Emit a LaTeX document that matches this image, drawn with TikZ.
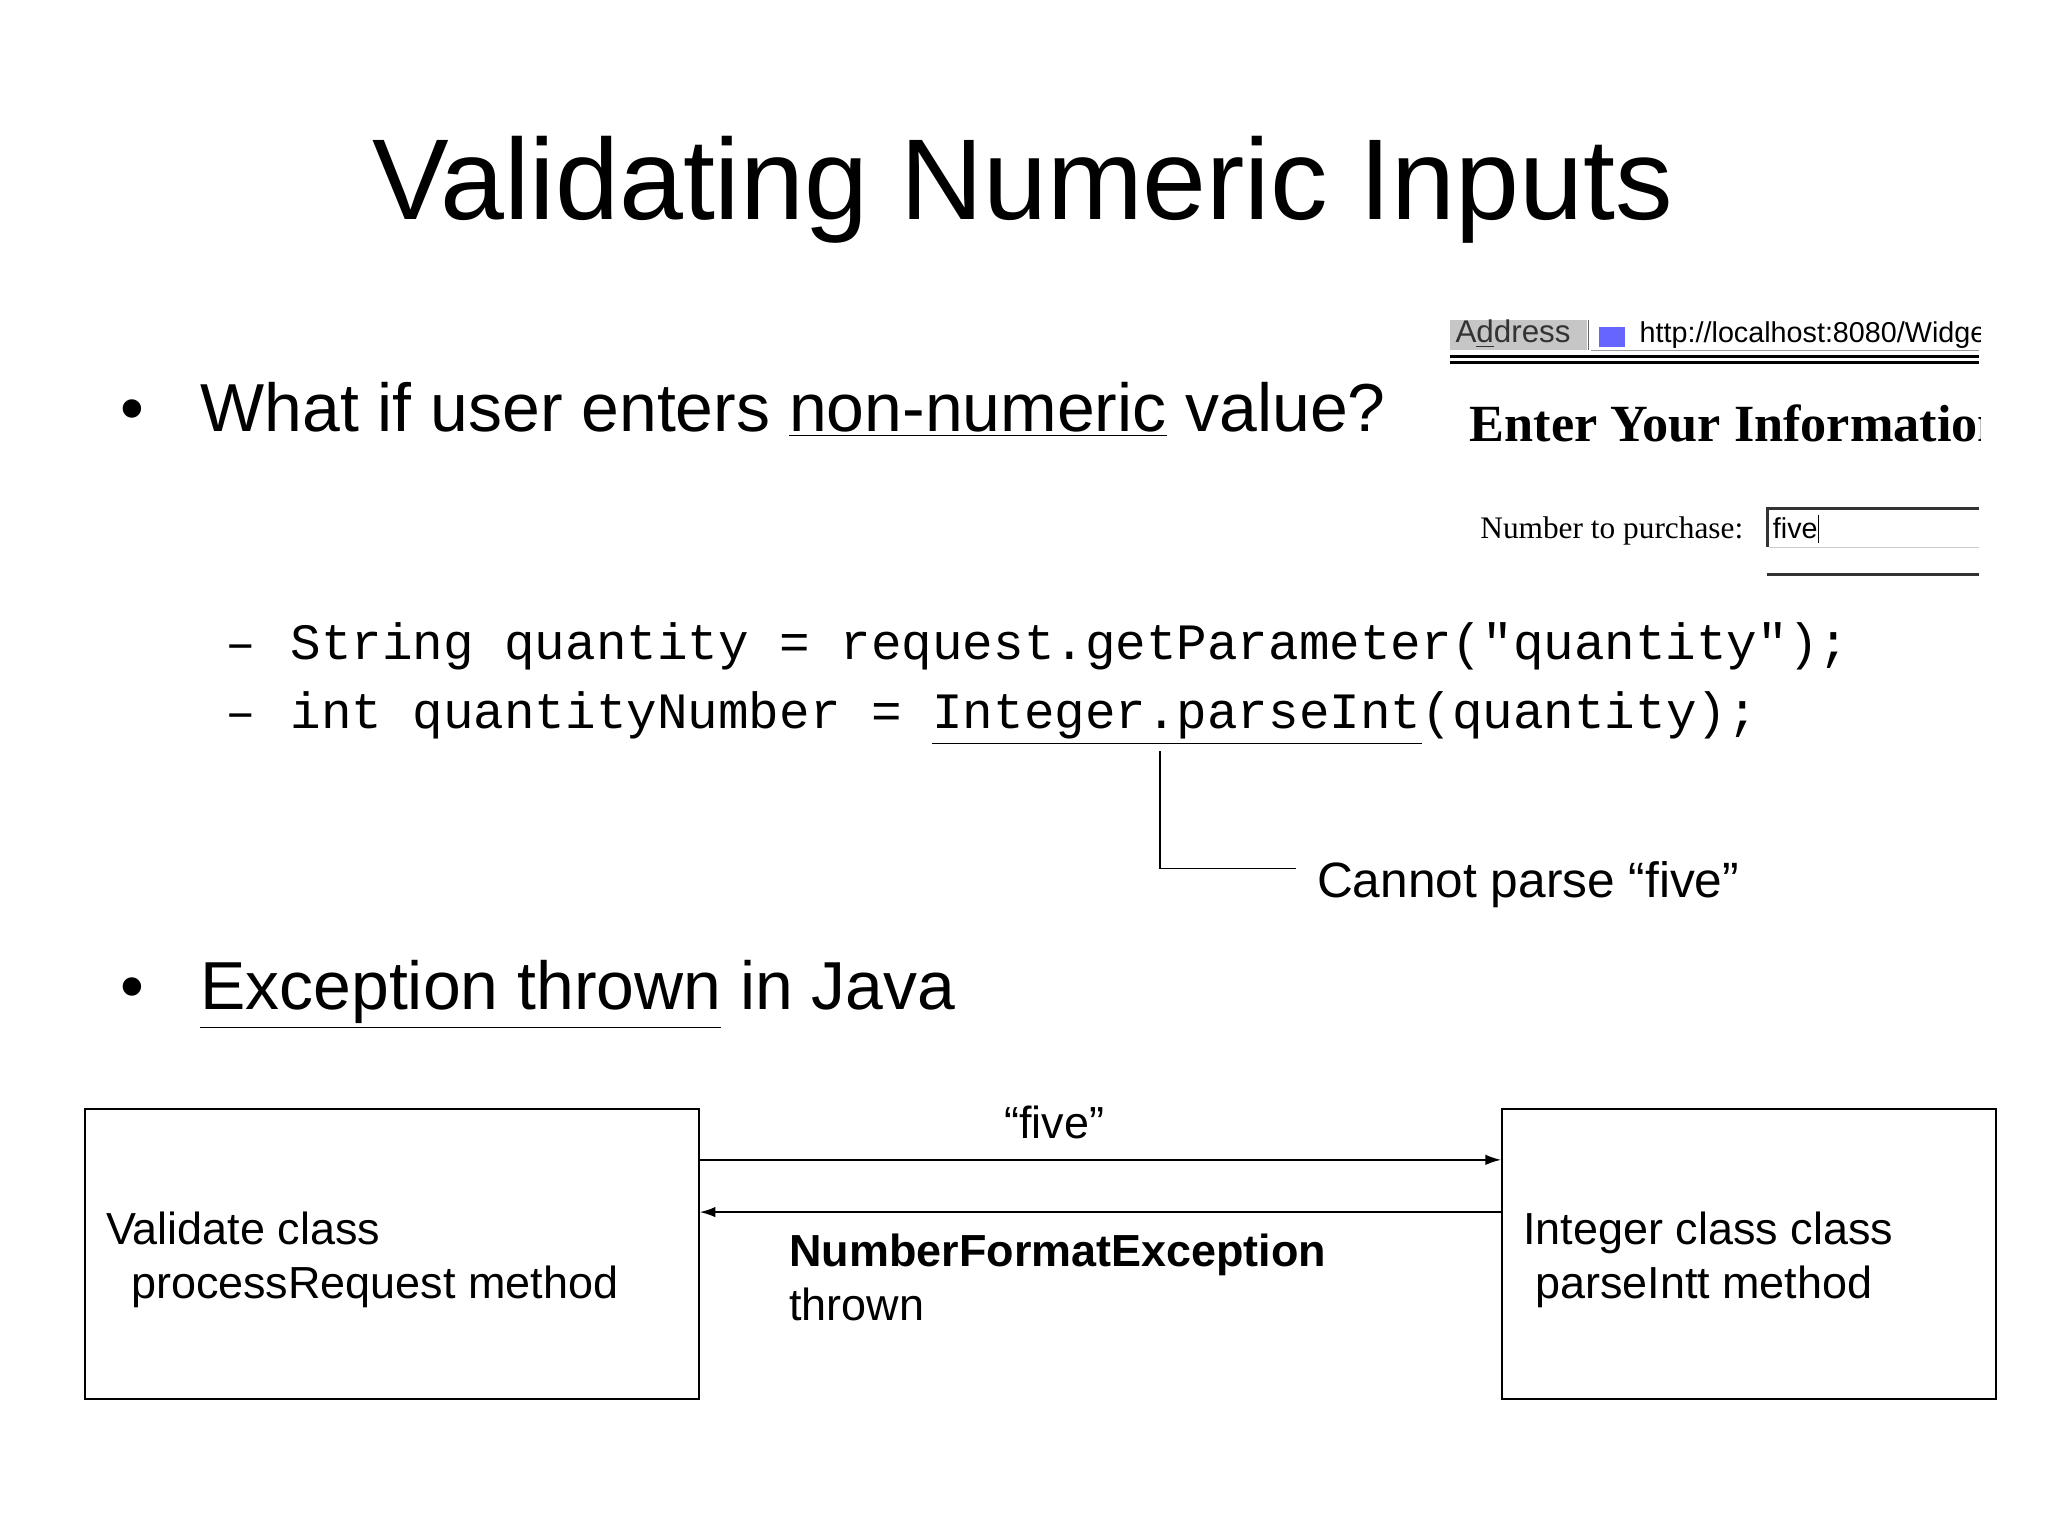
\documentclass[tikz,border=0pt]{standalone}
\usepackage{fontspec}
\setmainfont{Liberation Sans}
\setmonofont{Liberation Mono}
\newfontfamily\serifshot{Liberation Serif}
\usetikzlibrary{arrows.meta}
\begin{document}
\begin{tikzpicture}[x=0.5pt,y=-0.5pt,
  txt/.style={inner sep=0pt,anchor=base west},
  bigtxt/.style={txt,font=\fontsize{26}{30}\selectfont},
  codetxt/.style={txt,font=\ttfamily\fontsize{19.5}{22}\selectfont},
  boxtxt/.style={txt,font=\fontsize{17.2}{20}\selectfont},
  cls/.style={draw,line width=0.7pt,inner sep=0pt,minimum height=111pt},
  arr/.style={line width=0.7pt,-{Latex[length=6pt,width=4pt]}}]
\useasboundingbox (0,0) rectangle (1568,1176);
\fill[white] (0,0) rectangle (1568,1176);
\node[inner sep=0pt,font=\fontsize{44}{50}\selectfont] (title) at (783,145) {Validating Numeric Inputs};
% bullet 1
\node[bigtxt] (b1) at (92,330) {•};
\node[bigtxt] (t1) at (153,330) {What if user enters \underline{non-numeric} value?};
% screenshot
\begin{scope}
\clip (1105,245) rectangle (1516,445);
\fill[gray!45] (1110,245) rectangle (1215,268);
\node[txt,font=\fontsize{12}{14}\selectfont,text=black!80] (addr) at (1114,262) {A\underline{d}dress};
\draw[black!60] (1216,245) -- (1216,268);
\fill[blue!60] (1224,250) rectangle (1244,266);
\node[txt,font=\fontsize{11}{13}\selectfont] (url) at (1255,262) {http://localhost:8080/Widget};
\draw[black!40] (1218,268) -- (1515,268);
\draw[line width=1.2pt] (1110,273) -- (1515,273);
\draw[line width=1.2pt] (1110,277.5) -- (1515,277.5);
\node[txt,font=\serifshot\bfseries\fontsize{20}{24}\selectfont] (eyi) at (1125,338) {Enter Your Information};
\node[txt,font=\serifshot\fontsize{12}{14}\selectfont] (ntp) at (1133,412) {Number to purchase:};
\draw[line width=1.2pt,black!80] (1515,389) -- (1353,389) -- (1353,419);
\draw[black!20] (1354,419) -- (1515,419);
\node[txt,font=\fontsize{11}{13}\selectfont] (five) at (1357,412) {five};
\draw (1392,394) -- (1392,416);
\draw[line width=1.2pt,black!80] (1353,440) -- (1515,440);
\end{scope}
% code
\node[codetxt] (d1) at (172,505) {–};
\node[codetxt] (c1) at (222,505) {String quantity = request.getParameter("quantity");};
\node[codetxt] (d2) at (172,558) {–};
\node[codetxt] (c2) at (222,558) {int quantityNumber = \underline{Integer.parseInt}(quantity);};
\coordinate (ca) at (888,575);
\coordinate (cb) at (888,665);
\coordinate (cc) at (992,665);
\node[txt,font=\fontsize{19}{22}\selectfont] (cannot) at (1008,687) {Cannot parse “five”};
\draw[line width=0.7pt] (ca) -- (cb) -- (cc);
% bullet 2
\node[bigtxt] (b2) at (92,773) {•};
\node[bigtxt] (t2) at (153,773) {\underline{Exception thrown} in Java};
% boxes
\node[cls,minimum width=235pt] (lb) at (300,960) {};
\node[cls,minimum width=189pt] (rb) at (1339,960) {};
\draw[arr] (lb.east |- 0,888) -- (rb.west |- 0,888);
\draw[arr] (rb.west |- 0,928) -- (lb.east |- 0,928);
\node[boxtxt,anchor=base] (q) at (807,872) {“five”};
\node[boxtxt,font=\bfseries\fontsize{17.2}{20}\selectfont] (nfe) at (604,970) {NumberFormatException};
\node[boxtxt] (thr) at (604,1011) {thrown};
\node[boxtxt] (v1) at (81,953) {Validate class};
\node[boxtxt] (v2) at (100,994) {processRequest method};
\node[boxtxt] (i1) at (1166,953) {Integer class class};
\node[boxtxt] (i2) at (1175,994) {parseIntt method};
\end{tikzpicture}
\end{document}
